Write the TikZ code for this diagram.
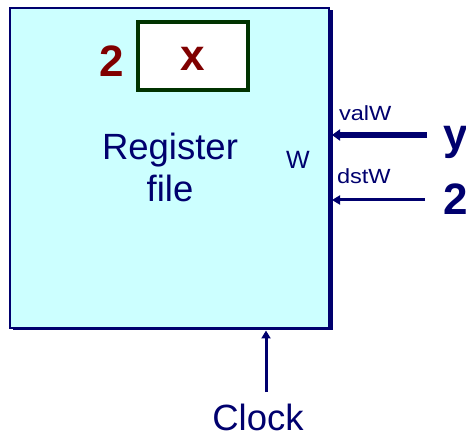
\documentclass[tikz,border=0pt]{standalone}
\usepackage{fontspec}
\setmainfont{Liberation Sans}
\usetikzlibrary{arrows.meta}
\definecolor{navyc}{RGB}{0,0,110}
\definecolor{darkredc}{RGB}{128,0,0}
\definecolor{dgreen}{RGB}{0,51,0}
\definecolor{cyanfill}{RGB}{204,255,255}
\begin{document}
\begin{tikzpicture}[x=1pt,y=-1pt,
  txt/.style={inner sep=0pt, outer sep=0pt, anchor=base, text=navyc},
  regbox/.style={draw=navyc, fill=cyanfill, line width=2pt, inner sep=0pt, outer sep=0pt,
    minimum width=319pt, minimum height=320pt},
  cellbox/.style={draw=dgreen, fill=white, line width=3.5pt, inner sep=0pt, outer sep=0pt,
    minimum width=110pt, minimum height=68pt},
  redtxt/.style={inner sep=0pt, outer sep=0pt, anchor=base, text=darkredc,
    font=\fontsize{44}{50}\selectfont\bfseries},
  bigtxt/.style={inner sep=0pt, outer sep=0pt, anchor=base, text=navyc,
    font=\fontsize{44}{50}\selectfont\bfseries},
  smalltxt/.style={txt, anchor=base west, font=\fontsize{20.5}{24}\selectfont},
  wire/.style={draw=navyc, line width=3pt, -{Triangle[width=9pt,length=8pt]}},
  thickwire/.style={draw=navyc, line width=6pt, -{Triangle[width=11pt,length=8pt]}}
]
\useasboundingbox (0,0) rectangle (466,438);
% shadow + main box
\fill[navyc] (12.5,10.5) rectangle (332.5,330.5);
\node[regbox] (rf) at (169.5,168) {};
% register cell
\node[cellbox] (cell) at (193,56) {};
\node[redtxt] (idx) at (111.5,77) {2};
\node[redtxt] (xval) at (193,71) {x};
% labels
\node[txt, align=center, font=\fontsize{36.5}{42}\selectfont] (name) at (170,202) {Register\\file};
\node[txt, font=\fontsize{25}{28}\selectfont] (w) at (298,169) {W};
\node[smalltxt] (valw) at (339,121) {\scalebox{1.15}[1]{valW}};
\node[smalltxt] (dstw) at (337,184) {\scalebox{1.15}[1]{dstW}};
\node[bigtxt, anchor=base west] (yin) at (443,150) {y};
\node[bigtxt, anchor=base west] (din) at (443,215) {2};
\node[txt, font=\fontsize{36.5}{42}\selectfont] (clk) at (258,430) {Clock};
% wires
\coordinate (ysrc) at (427,135);
\coordinate (dsrc) at (425,200);
\coordinate (csrc) at (266,392);
\draw[thickwire] (ysrc) -- ([xshift=3pt]rf.east |- ysrc);
\draw[wire] (dsrc) -- ([xshift=3pt]rf.east |- dsrc);
\draw[wire] (csrc) -- ([yshift=-2.5pt]rf.south -| csrc);
\end{tikzpicture}
\end{document}
